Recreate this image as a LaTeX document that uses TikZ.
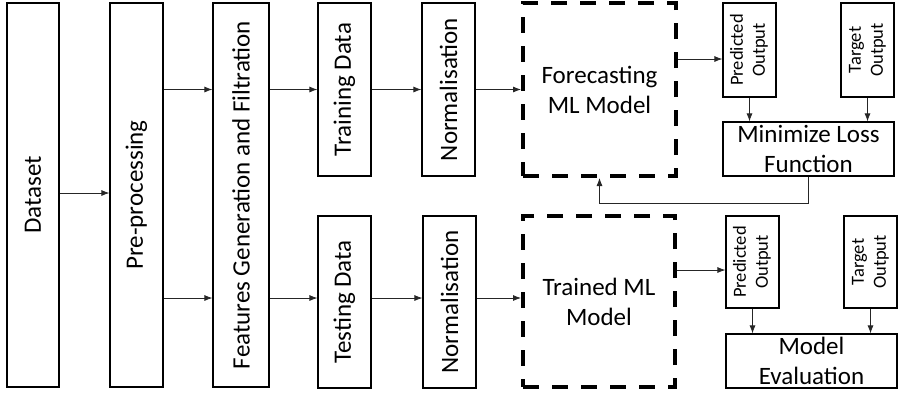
\documentclass[tikz,border=0pt]{standalone}
\usepackage{fontspec}
\setmainfont{Carlito}
\usetikzlibrary{arrows.meta}
\tikzset{
  box/.style = {draw, line width = 1.2pt, inner sep = 0pt, align = center},
  dbox/.style = {draw, line width = 4pt, dash pattern = on 16pt off 13pt, inner sep = 0pt, align = center},
  arr/.style = {-{Latex[length = 8pt, width = 6pt]}, line width = 0.8pt, black!85},
  big/.style = {font = \fontsize{25}{30}\selectfont},
  small/.style = {font = \fontsize{18.5}{22}\selectfont}
}
\begin{document}
\begin{tikzpicture}[x = 1pt, y = -1pt]
            \useasboundingbox (0,0) rectangle (898,392);
            %the three tall boxes on the left
            \node[box, big, minimum width = 52pt, minimum height = 384pt] (data) at (33,195) {\rotatebox{90}{Dataset}};
            \node[box, big, minimum width = 53pt, minimum height = 384pt] (pre) at (136.5,195) {\rotatebox{90}{Pre-processing}};
            \node[box, big, minimum width = 56pt, minimum height = 384pt] (feat) at (241,195) {\rotatebox{90}{Features Generation and Filtration}};

            %upper branch: training
            \node[box, big, minimum width = 53pt, minimum height = 173pt] (train) at (344.5,89.5) {\rotatebox{90}{Training Data}};
            \node[box, big, minimum width = 53pt, minimum height = 173pt] (normtop) at (448.5,89.5) {\rotatebox{90}{Normalisation}};
            \node[dbox, big, minimum width = 153pt, minimum height = 173pt] (forecast) at (599.5,89.5) {Forecasting\\ML Model};
            \node[box, small, minimum width = 53pt, minimum height = 94pt] (predtop) at (749.5,50) {\rotatebox{90}{\begin{tabular}{@{}c@{}}Predicted\\Output\end{tabular}}};
            \node[box, small, minimum width = 53pt, minimum height = 94pt] (targtop) at (867.5,50) {\rotatebox{90}{\begin{tabular}{@{}c@{}}Target\\Output\end{tabular}}};
            \node[box, big, minimum width = 171pt, minimum height = 54pt] (loss) at (808.5,149) {Minimize Loss\\Function};

            %lower branch: testing
            \node[box, big, minimum width = 53pt, minimum height = 172pt] (test) at (344.5,302) {\rotatebox{90}{Testing Data}};
            \node[box, big, minimum width = 53pt, minimum height = 172pt] (normbot) at (449.5,302) {\rotatebox{90}{Normalisation}};
            \node[dbox, big, minimum width = 152pt, minimum height = 171pt] (trained) at (599,301.5) {Trained ML\\Model};
            \node[box, small, minimum width = 53pt, minimum height = 92pt] (predbot) at (752.5,262) {\rotatebox{90}{\begin{tabular}{@{}c@{}}Predicted\\Output\end{tabular}}};
            \node[box, small, minimum width = 53pt, minimum height = 92pt] (targbot) at (870.5,262) {\rotatebox{90}{\begin{tabular}{@{}c@{}}Target\\Output\end{tabular}}};
            \node[box, big, minimum width = 171pt, minimum height = 54pt] (evalbox) at (811.5,361) {Model\\Evaluation};

            %connections on the left
            \draw[arr] (data.east |- 0,193) -- (pre.west |- 0,193);
            \draw[arr] (pre.east |- train) -- (feat.west |- train);
            \draw[arr] (pre.east |- 0,298) -- (feat.west |- 0,298);

            %upper chain
            \draw[arr] (feat.east |- train) -- (train.west);
            \draw[arr] (train) -- (normtop);
            \draw[arr] (normtop.east) -- (forecast.west);
            \coordinate (fp) at ([yshift = -9pt]predtop.west);
            \draw[arr] (forecast.east |- fp) -- (fp);
            \draw[arr] (predtop.south) -- (predtop.south |- loss.north);
            \draw[arr] (targtop.south) -- (targtop.south |- loss.north);
            %feedback to the forecasting model
            \draw[arr] (loss.south) -- ++(0,27) -| (forecast.south);

            %lower chain
            \draw[arr] (feat.east |- 0,298) -- (test.west |- 0,298);
            \draw[arr] (test.east |- 0,298) -- (normbot.west |- 0,298);
            \draw[arr] (normbot.east |- 0,298) -- (trained.west |- 0,298);
            \coordinate (fb) at ([yshift = -8pt]predbot.west);
            \draw[arr] (trained.east |- fb) -- (fb);
            \draw[arr] (predbot.south) -- (predbot.south |- evalbox.north);
            \draw[arr] (targbot.south) -- (targbot.south |- evalbox.north);
        \end{tikzpicture}
\end{document}
